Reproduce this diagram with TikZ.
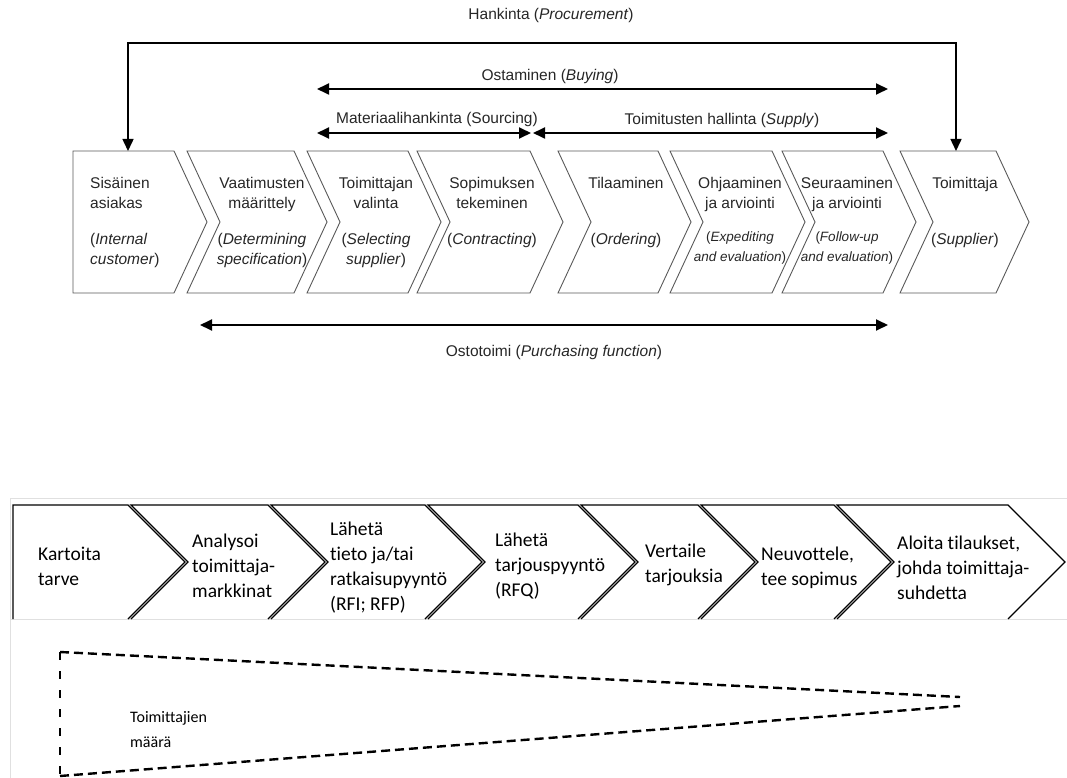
\documentclass[tikz,border=0pt]{standalone}
\usepackage{fontspec}
\setmainfont{Liberation Sans}
\newfontfamily\calibrifont[Ligatures=NoCommon]{Carlito}
\usetikzlibrary{arrows.meta}

\newcommand{\ensmall}[1]{{\fontsize{13.5}{20}\selectfont #1}}

\tikzset{
  stage/.style={draw=black!65, line width=0.9pt, line join=miter},
  stagetext/.style={anchor=north, inner sep=0pt, align=center, text=black!85, font=\fontsize{15.5}{20}\selectfont},
  phase/.style={inner sep=0pt, text=black!85, font=\fontsize{15.5}{20}\selectfont},
  span/.style={line width=1.8pt, {Triangle[length=12pt,width=11pt]}-{Triangle[length=12pt,width=11pt]}},
  vaihe/.style={draw=black, line width=1.3pt, line join=miter},
  vaihetext/.style={anchor=west, inner sep=0pt, align=left, font=\calibrifont\fontsize{19.5}{25}\selectfont},
  funnel/.style={line width=2.4pt, dash pattern=on 9pt off 5pt},
  funnelside/.style={line width=2.2pt, dash pattern=on 8pt off 11pt},
  screen/.style={draw=black!12, line width=1pt}
}

\begin{document}
\begin{tikzpicture}[x=1pt, y=-1pt]
\useasboundingbox (0,0) rectangle (1067,778);

%Process chain
\draw[stage] (73,151) -- (174,151) -- (207,222) -- (174,293) -- (73,293) -- cycle;
\draw[stage] (187,151) -- (294,151) -- (327,222) -- (294,293) -- (187,293) -- (220,222) -- cycle;
\draw[stage] (307,151) -- (408,151) -- (441,222) -- (408,293) -- (307,293) -- (340,222) -- cycle;
\draw[stage] (417,151) -- (530,151) -- (563,222) -- (530,293) -- (417,293) -- (450,222) -- cycle;
\draw[stage] (558,151) -- (658,151) -- (691,222) -- (658,293) -- (558,293) -- (591,222) -- cycle;
\draw[stage] (670,151) -- (772,151) -- (805,222) -- (772,293) -- (670,293) -- (703,222) -- cycle;
\draw[stage] (782,151) -- (883,151) -- (916,222) -- (883,293) -- (782,293) -- (815,222) -- cycle;
\draw[stage] (900,151) -- (996,151) -- (1029,222) -- (996,293) -- (900,293) -- (933,222) -- cycle;

\node[stagetext, anchor=north west, align=left] (asiakas) at (90,177) {Sisäinen\\asiakas\\[16pt](\textit{Internal}\\\textit{customer})};
\node[stagetext] (vaatimus) at (262,177) {Vaatimusten\\määrittely\\[16pt](\textit{Determining}\\\textit{specification})};
\node[stagetext] (valinta) at (376,177) {Toimittajan\\valinta\\[16pt](\textit{Selecting}\\\textit{supplier})};
\node[stagetext] (sopimus) at (492,177) {Sopimuksen\\tekeminen\\[16pt](\textit{Contracting})};
\node[stagetext] (tilaus) at (626,177) {Tilaaminen\\[36pt](\textit{Ordering})};
\node[stagetext] (ohjaus) at (740,177) {Ohjaaminen\\ja arviointi\\[13pt]\ensmall{(\textit{Expediting}}\\\ensmall{\textit{and evaluation})}};
\node[stagetext] (seuranta) at (847,177) {Seuraaminen\\ja arviointi\\[13pt]\ensmall{(\textit{Follow-up}}\\\ensmall{\textit{and evaluation})}};
\node[stagetext] (toimittaja) at (965,177) {Toimittaja\\[36pt](\textit{Supplier})};

%Spans
\coordinate (sisTop) at (128,151);
\coordinate (toimTop) at (956,151);
\coordinate (hankL) at (128,43);
\coordinate (hankR) at (956,43);
\coordinate (buyL) at (317,89);
\coordinate (buyR) at (888,89);
\coordinate (sourceL) at (317,133);
\coordinate (sourceR) at (531,133);
\coordinate (supplyL) at (533,133);
\coordinate (supplyR) at (888,133);
\coordinate (purchL) at (200,325);
\coordinate (purchR) at (888,325);

\node[phase] (hankinta) at (551,15) {Hankinta (\textit{Procurement})};
\node[phase] (ostaminen) at (550,76) {Ostaminen (\textit{Buying})};
\node[phase] (materiaali) at (437,119) {Materiaalihankinta (Sourcing)};
\node[phase] (toimitus) at (722,120) {Toimitusten hallinta (\textit{Supply})};
\node[phase] (ostotoimi) at (554,352) {Ostotoimi (\textit{Purchasing function})};

\draw[span, line width=1.5pt] (sisTop) -- (hankL) -- (hankR) -- (toimTop);
\draw[span] (buyL) -- (buyR);
\draw[span] (sourceL) -- (sourceR);
\draw[span] (supplyL) -- (supplyR);
\draw[span] (purchL) -- (purchR);

%Screenshot frame
\draw[screen] (1067,498) -- (10,498) -- (10,778);
\draw[screen] (10,619) -- (1067,619);

%Tendering steps
\draw[vaihe] (13,619) -- (13,505) -- (128,505) -- (185,562) -- (128,619);
\draw[vaihe] (131,619) -- (188,562) -- (131,505) -- (268,505) -- (325,562) -- (268,619);
\draw[vaihe] (271,619) -- (328,562) -- (271,505) -- (425,505) -- (482,562) -- (425,619);
\draw[vaihe] (428,619) -- (485,562) -- (428,505) -- (578,505) -- (635,562) -- (578,619);
\draw[vaihe] (581,619) -- (638,562) -- (581,505) -- (698,505) -- (755,562) -- (698,619);
\draw[vaihe] (701,619) -- (758,562) -- (701,505) -- (834,505) -- (891,562) -- (834,619);
\draw[vaihe] (837,619) -- (894,562) -- (837,505) -- (1008,505) -- (1065,562) -- (1008,619);

\node[vaihetext] (tarve) at (38,566) {Kartoita\\tarve};
\node[vaihetext] (markkinat) at (192,566) {Analysoi\\toimittaja-\\markkinat};
\node[vaihetext] (rfi) at (330,568) {Lähetä\\tieto ja/tai\\ratkaisupyyntö\\(RFI; RFP)};
\node[vaihetext] (rfq) at (495,566) {Lähetä\\tarjouspyyntö\\(RFQ)};
\node[vaihetext] (vertailu) at (645,565) {Vertaile\\tarjouksia};
\node[vaihetext] (neuvottelu) at (761,568) {Neuvottele,\\tee sopimus};
\node[vaihetext] (tilaukset) at (897,568) {Aloita tilaukset,\\johda toimittaja-\\suhdetta};

%Number of suppliers
\coordinate (fTop) at (60,652);
\coordinate (fBot) at (60,776);
\coordinate (fTipA) at (960,697);
\coordinate (fTipB) at (960,706);
\draw[funnel] (fTop) -- (fTipA);
\draw[funnel] (fBot) -- (fTipB);
\draw[funnelside] (fTop) -- (fBot);
\node[vaihetext, font=\calibrifont\fontsize{16}{25}\selectfont] (maara) at (130,730) {Toimittajien\\määrä};
\end{tikzpicture}
\end{document}
